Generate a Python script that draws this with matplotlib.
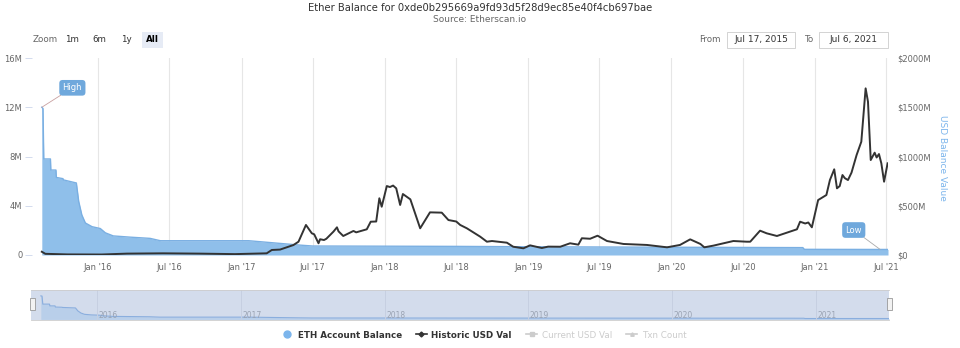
import pandas as pd
import matplotlib.pyplot as plt
from matplotlib.patches import Rectangle
from matplotlib.lines import Line2D

plt.rcParams['font.family'] = ['DejaVu Sans']

# ETH account balance (millions of ETH)
eth_dates = ['2015-08-11', '2015-08-14', '2015-08-16', '2015-09-02', '2015-09-03',
             '2015-09-16', '2015-09-17', '2015-10-04', '2015-10-05', '2015-11-07',
             '2015-11-13', '2015-11-21', '2015-11-30', '2015-12-17', '2016-01-07',
             '2016-01-20', '2016-02-09', '2016-03-23', '2016-05-13', '2016-06-08',
             '2017-01-19', '2017-05-31', '2017-07-01', '2018-07-01', '2019-01-01',
             '2020-01-01', '2020-12-01', '2020-12-05', '2021-07-06']
eth_vals = [12.0, 11.9, 7.8, 7.8, 6.9,
            6.9, 6.3, 6.2, 6.1, 5.85,
            4.35, 3.25, 2.6, 2.3, 2.15,
            1.8, 1.55, 1.45, 1.35, 1.16,
            1.16, 0.8, 0.73, 0.7, 0.67,
            0.63, 0.6, 0.46, 0.45]

# Historic USD value (millions of USD)
usd_dates = ['2015-08-11', '2015-08-20', '2015-10-15', '2016-01-10', '2016-03-15',
             '2016-06-15', '2016-09-15', '2016-12-15', '2017-03-06', '2017-03-19',
             '2017-04-09', '2017-04-26', '2017-05-13', '2017-05-26', '2017-06-14',
             '2017-06-29', '2017-07-05', '2017-07-16', '2017-07-20', '2017-07-30',
             '2017-08-05', '2017-08-23', '2017-09-01', '2017-09-05', '2017-09-17',
             '2017-10-13', '2017-10-20', '2017-11-16', '2017-11-26', '2017-12-10',
             '2017-12-18', '2017-12-24', '2018-01-06', '2018-01-14', '2018-01-22',
             '2018-01-30', '2018-02-09', '2018-02-16', '2018-03-07', '2018-04-01',
             '2018-04-26', '2018-05-26', '2018-06-12', '2018-07-02', '2018-07-12',
             '2018-07-29', '2018-09-01', '2018-09-18', '2018-10-01', '2018-11-08',
             '2018-11-24', '2018-12-20', '2019-01-06', '2019-02-05', '2019-02-21',
             '2019-03-24', '2019-04-18', '2019-05-09', '2019-05-18', '2019-06-08',
             '2019-06-27', '2019-07-21', '2019-09-01', '2019-10-31', '2019-12-21',
             '2020-01-23', '2020-02-18', '2020-03-15', '2020-03-25', '2020-04-17',
             '2020-06-07', '2020-07-11', '2020-07-20', '2020-08-14', '2020-08-31',
             '2020-09-26', '2020-11-16', '2020-11-24', '2020-12-07', '2020-12-15',
             '2020-12-24', '2021-01-09', '2021-01-30', '2021-02-08', '2021-02-19',
             '2021-02-26', '2021-03-05', '2021-03-12', '2021-03-18', '2021-03-26',
             '2021-04-04', '2021-04-17', '2021-04-29', '2021-05-10', '2021-05-16',
             '2021-05-23', '2021-06-02', '2021-06-07', '2021-06-13', '2021-06-19',
             '2021-06-26', '2021-07-05']
usd_vals = [33, 12, 6, 5, 14,
            17, 14, 9, 17, 51,
            55, 78, 101, 135, 305,
            220, 210, 119, 160, 152,
            165, 237, 281, 240, 193,
            244, 230, 261, 338, 340,
            576, 490, 700, 690, 705,
            677, 508, 619, 565, 271,
            433, 430, 355, 340, 305,
            271, 186, 135, 142, 125,
            84, 68, 98, 71, 85,
            84, 119, 105, 170, 165,
            196, 142, 112, 102, 78,
            102, 159, 112, 78, 95,
            142, 135, 135, 247, 220,
            193, 261, 338, 320, 330,
            281, 558, 609, 761, 870,
            677, 700, 812, 780, 761,
            836, 1015, 1150, 1692, 1556,
            964, 1039, 990, 1025, 931,
            744, 931]

y_ticks = [0, 4, 8, 12, 16]
y_labels = ['0', '4M', '8M', '12M', '16M']
usd_ticks = [0, 500, 1000, 1500, 2000]
usd_labels = ['$0', '$500M', '$1000M', '$1500M', '$2000M']
x_tick_dates = ['2016-01-01', '2016-07-01', '2017-01-01', '2017-07-01', '2018-01-01',
                '2018-07-01', '2019-01-01', '2019-07-01', '2020-01-01', '2020-07-01',
                '2021-01-01', '2021-07-01']
x_tick_labels = ["Jan '16", "Jul '16", "Jan '17", "Jul '17", "Jan '18", "Jul '18",
                 "Jan '19", "Jul '19", "Jan '20", "Jul '20", "Jan '21", "Jul '21"]
nav_years = ['2016', '2017', '2018', '2019', '2020', '2021']

eth_d = pd.to_datetime(eth_dates)
usd_d = pd.to_datetime(usd_dates)
x0, x1 = pd.Timestamp('2015-07-17'), pd.Timestamp('2021-07-06')

W, H = 960, 348
TXT = '#333333'
LBL = '#666666'
BLUE = '#7cb5ec'


def fy(py):
    return 1 - py / H


fig = plt.figure(figsize=(W / 100, H / 100), dpi=100)

# main chart
ax = fig.add_axes([32 / W, fy(255), (888 - 32) / W, (255 - 58) / H])
ax.fill_between(eth_d, eth_vals, 0, color='#8fbfea', lw=0, zorder=2)
ax.plot(eth_d, eth_vals, color='#7aafe2', lw=1, zorder=3)
ax.set_xlim(x0, x1)
ax.set_ylim(0, 16)
ax.set_xticks(pd.to_datetime(x_tick_dates))
ax.set_xticklabels(x_tick_labels)
ax.set_yticks(y_ticks)
ax.set_yticklabels(y_labels)
ax.grid(axis='x', color='#e6e6e6', lw=0.8)
ax.set_axisbelow(True)
for s in ax.spines.values():
    s.set_visible(False)
ax.tick_params(axis='x', length=0, pad=6, labelsize=6, labelcolor=LBL)
ax.tick_params(axis='y', length=5, width=0.6, color='#ccd6eb', pad=2,
               labelsize=6, labelcolor=LBL)

ax2 = ax.twinx()
ax2.plot(usd_d, usd_vals, color='#333333', lw=1.4, zorder=4)
ax2.set_ylim(0, 2000)
ax2.set_xlim(x0, x1)
ax2.set_yticks(usd_ticks)
ax2.set_yticklabels(usd_labels)
ax2.tick_params(axis='y', length=0, pad=7, labelsize=6, labelcolor=LBL)
for s in ax2.spines.values():
    s.set_visible(False)

fig.text(943 / W, fy(158), 'USD Balance Value', rotation=270, ha='center',
         va='center', fontsize=6.5, color=BLUE)

# High / Low flags
ax.annotate('High', xy=(eth_d[0], eth_vals[0]), xytext=(22, 14),
            textcoords='offset points', ha='center', va='center', fontsize=6,
            color='white',
            bbox=dict(boxstyle='round,pad=0.4', fc='#6fa8dc', ec='none'),
            arrowprops=dict(arrowstyle='-', color='#c8a0a0', lw=0.6,
                            shrinkA=0, shrinkB=0))
ax.annotate('Low', xy=(pd.Timestamp('2021-06-16'), 0.45), xytext=(-19, 14),
            textcoords='offset points', ha='center', va='center', fontsize=6,
            color='white',
            bbox=dict(boxstyle='round,pad=0.4', fc='#6fa8dc', ec='none'),
            arrowprops=dict(arrowstyle='-', color='#aaaaaa', lw=0.6,
                            shrinkA=0, shrinkB=0))

# titles
fig.text(0.5, fy(8), 'Ether Balance for 0xde0b295669a9fd93d5f28d9ec85e40f4cb697bae',
         ha='center', va='center', fontsize=7.2, color=TXT)
fig.text(0.5, fy(19), 'Source: Etherscan.io', ha='center', va='center',
         fontsize=6.5, color=LBL)

# range selector buttons
fig.add_artist(Rectangle((142 / W, fy(48)), 21 / W, 16 / H, transform=fig.transFigure,
                         fc='#e6ebf5', ec='none'))
fig.text(33 / W, fy(40), 'Zoom', ha='left', va='center', fontsize=6.3, color=LBL)
for lab, cx in zip(['1m', '6m', '1y'], [72, 99, 126]):
    fig.text(cx / W, fy(40), lab, ha='center', va='center', fontsize=6.3, color=TXT)
fig.text(152 / W, fy(40), 'All', ha='center', va='center', fontsize=6.3,
         color='#000000', weight='bold')

fig.text(721 / W, fy(40), 'From', ha='right', va='center', fontsize=6.3, color=LBL)
fig.add_artist(Rectangle((727 / W, fy(48)), 68 / W, 16 / H, transform=fig.transFigure,
                         fc='white', ec='#cccccc', lw=0.6))
fig.text(761 / W, fy(40), 'Jul 17, 2015', ha='center', va='center', fontsize=6.5,
         color=TXT)
fig.text(813 / W, fy(40), 'To', ha='right', va='center', fontsize=6.3, color=LBL)
fig.add_artist(Rectangle((819 / W, fy(48)), 69 / W, 16 / H, transform=fig.transFigure,
                         fc='white', ec='#cccccc', lw=0.6))
fig.text(853 / W, fy(40), 'Jul 6, 2021', ha='center', va='center', fontsize=6.5,
         color=TXT)

# navigator
nav = fig.add_axes([31 / W, fy(320), (889 - 31) / W, 30 / H])
nav.set_facecolor('#d3dcec')
nav.fill_between(eth_d, eth_vals, 0, color='#b9cfea', lw=0)
nav.plot(eth_d, eth_vals, color='#8aaede', lw=0.8)
nav.set_xlim(x0, x1)
nav.set_ylim(-0.3, 15)
nav.set_xticks([])
nav.set_yticks([])
for yr in nav_years:
    d = pd.Timestamp(yr + '-01-01')
    nav.axvline(d, color='#c6cfe1', lw=0.7)
    nav.text(d + pd.Timedelta(days=4), 1.8, yr, fontsize=5.5, color='#9aa3b3',
             ha='left', va='center')
for side in ['left', 'right']:
    nav.spines[side].set_visible(False)
for side in ['top', 'bottom']:
    nav.spines[side].set_color('#cccccc')
    nav.spines[side].set_linewidth(0.6)
for hx in [29.5, 886.5]:
    fig.add_artist(Rectangle((hx / W, fy(310)), 5 / W, 12 / H, transform=fig.transFigure,
                             fc='#f2f2f2', ec='#999999', lw=0.6))

# legend
handles = [
    Line2D([], [], marker='o', ls='none', color=BLUE, markersize=5),
    Line2D([], [], marker='D', ls='-', color='#333333', markersize=2.5, lw=1.2),
    Line2D([], [], marker='s', ls='-', color='#cccccc', markersize=2.5, lw=1.2),
    Line2D([], [], marker='^', ls='-', color='#cccccc', markersize=2.5, lw=1.2),
]
labels = ['ETH Account Balance', 'Historic USD Val', 'Current USD Val', 'Txn Count']
leg = fig.legend(handles, labels, loc='center', bbox_to_anchor=(484 / W, fy(335)),
                 ncol=4, frameon=False, fontsize=6.3, handlelength=1.3,
                 handletextpad=0.5, columnspacing=1.6)
for i, t in enumerate(leg.get_texts()):
    if i < 2:
        t.set_color(TXT)
        t.set_weight('bold')
    else:
        t.set_color('#cccccc')

fig.savefig('out.png', dpi=100)
